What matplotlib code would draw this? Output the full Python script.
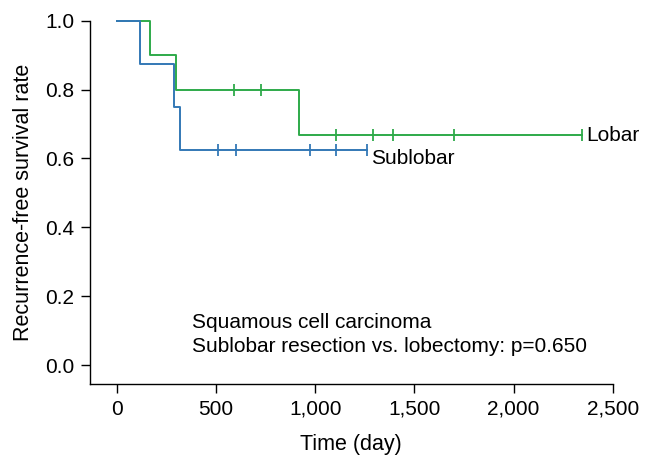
import numpy as np
import matplotlib
matplotlib.use("Agg")
import matplotlib.pyplot as plt

plt.rcParams['font.family'] = ['Liberation Sans', 'DejaVu Sans']

# follow-up times (days) and event flags (1 = recurrence, 0 = censored)
lobar_time = [168, 301, 591, 725, 919, 1107, 1291, 1390, 1698, 2343]
lobar_event = [1, 1, 0, 0, 1, 0, 0, 0, 0, 0]
sublobar_time = [119, 289, 318, 510, 602, 975, 1107, 1259]
sublobar_event = [1, 1, 1, 0, 0, 0, 0, 0]

green = '#2eaa4a'
blue = '#3378b6'
fs = 15


def km(times, events):
    times = np.asarray(times, float)
    events = np.asarray(events)
    order = np.argsort(times)
    times, events = times[order], events[order]
    n = len(times)
    s = 1.0
    xs, ys = [0.0], [1.0]
    cx, cy = [], []
    for i, (t, e) in enumerate(zip(times, events)):
        at_risk = n - i
        if e:
            s = s * (at_risk - 1) / at_risk
            xs.append(t)
            ys.append(s)
        else:
            cx.append(t)
            cy.append(s)
    xs.append(times[-1])
    ys.append(s)
    return xs, ys, cx, cy


fig = plt.figure(figsize=(6.53, 4.68), dpi=100)
ax = fig.add_axes([0.1378, 0.1795, 0.8005, 0.7763])

for t, e, c, name, dy in [(lobar_time, lobar_event, green, 'Lobar', 0.0),
                          (sublobar_time, sublobar_event, blue, 'Sublobar', -0.025)]:
    xs, ys, cx, cy = km(t, e)
    ax.step(xs, ys, where='post', color=c, lw=1.4, clip_on=False)
    ax.plot(cx, cy, ls='none', marker='|', ms=8, mew=1.3, color=c, clip_on=False)
    ax.text(xs[-1] + 22, ys[-1] + dy, name, fontsize=fs, va='center', ha='left')

ax.set_xlim(-135, 2500)
ax.set_ylim(-0.055, 1.0)
ax.set_xticks([0, 500, 1000, 1500, 2000, 2500])
ax.set_xticklabels(['0', '500', '1,000', '1,500', '2,000', '2,500'])
ax.set_yticks([0.0, 0.2, 0.4, 0.6, 0.8, 1.0])
ax.set_yticklabels(['0.0', '0.2', '0.4', '0.6', '0.8', '1.0'])
ax.tick_params(direction='out', length=6.5, width=1, labelsize=fs, pad=5)
for sp in ['top', 'right']:
    ax.spines[sp].set_visible(False)
for sp in ['left', 'bottom']:
    ax.spines[sp].set_linewidth(1)

ax.set_xlabel('Time (day)', fontsize=15.5, labelpad=11)
ax.set_ylabel('Recurrence-free survival rate', fontsize=15.5, labelpad=8)

ax.text(380, 0.125, 'Squamous cell carcinoma', fontsize=fs, va='center')
ax.text(380, 0.055, 'Sublobar resection vs. lobectomy: p=0.650', fontsize=fs, va='center')

fig.savefig('out.png', dpi=100)
